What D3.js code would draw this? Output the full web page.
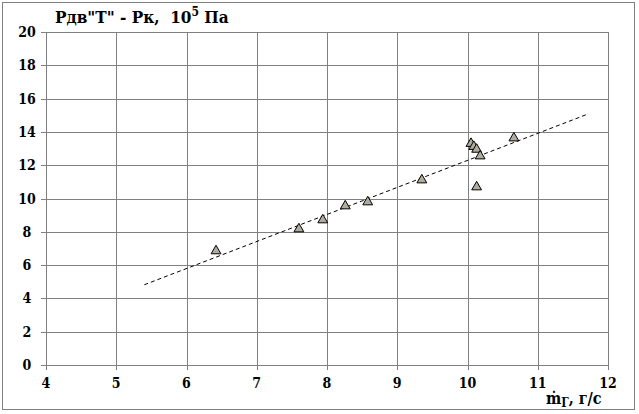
<!DOCTYPE html>
<html><head><meta charset="utf-8">
<script src="https://cdn.jsdelivr.net/npm/d3@7"></script>
<style>body{margin:0;background:#fff}svg{display:block}</style>
</head><body>
<script>
const xVals = [6.42, 7.60, 7.94, 8.26, 8.58, 9.35, 10.05, 10.09, 10.13, 10.18, 10.13, 10.66];
const yVals = [6.85, 8.17, 8.71, 9.55, 9.79, 11.11, 13.30, 13.12, 12.95, 12.55, 10.69, 13.63];
const trendX = [5.4, 11.7];
const trendY = [4.82, 15.05];
const xTicks = [4,5,6,7,8,9,10,11,12];
const yTicks = [0,2,4,6,8,10,12,14,16,18,20];

const W=639,H=414;
const FONT="'DejaVu Serif Condensed','DejaVu Serif',serif";
const svg=d3.select("body").append("svg").attr("width",W).attr("height",H)
  .attr("font-family",FONT).attr("font-weight","bold");
svg.append("rect").attr("x",0).attr("y",0).attr("width",W).attr("height",H).attr("fill","#fff");
svg.append("rect").attr("x",2.5).attr("y",2.5).attr("width",632).attr("height",407)
  .attr("fill","none").attr("stroke","#808080").attr("stroke-width",1);

const x=d3.scaleLinear().domain([4,12]).range([46,608]);
const y=d3.scaleLinear().domain([0,20]).range([365,32]);
const g=svg.append("g");
g.selectAll(".vg").data(xTicks).join("line")
  .attr("x1",d=>Math.round(x(d))+0.5).attr("x2",d=>Math.round(x(d))+0.5)
  .attr("y1",y(20)).attr("y2",y(0)).attr("stroke","#808080");
g.selectAll(".hg").data(yTicks).join("line")
  .attr("y1",d=>Math.round(y(d))+0.5).attr("y2",d=>Math.round(y(d))+0.5)
  .attr("x1",x(4)-5).attr("x2",x(12)).attr("stroke","#808080");
g.selectAll(".xt").data(xTicks).join("line")
  .attr("x1",d=>Math.round(x(d))+0.5).attr("x2",d=>Math.round(x(d))+0.5)
  .attr("y1",y(0)).attr("y2",y(0)+5).attr("stroke","#808080");
g.selectAll(".yl").data(yTicks).join("text")
  .attr("x",27).attr("y",d=>y(d)+5).attr("text-anchor","middle")
  .attr("font-size",14).style("font-family",FONT).text(d=>d);
g.selectAll(".xl").data(xTicks).join("text")
  .attr("x",d=>x(d)).attr("y",388).attr("text-anchor","middle")
  .attr("font-size",14).style("font-family",FONT).text(d=>d);
svg.append("line").attr("x1",x(trendX[0])).attr("y1",y(trendY[0]))
  .attr("x2",x(trendX[1])).attr("y2",y(trendY[1]))
  .attr("stroke","#000").attr("stroke-width",1).attr("stroke-dasharray","4,3");
const pts=xVals.map((v,i)=>[v,yVals[i]]);
svg.selectAll(".pt").data(pts).join("path")
  .attr("d",d3.symbol(d3.symbolTriangle,42)())
  .attr("transform",d=>`translate(${x(d[0])},${y(d[1])})`)
  .attr("fill","#aeac9c").attr("stroke","#000").attr("stroke-width",1);
const t=svg.append("text").attr("x",55).attr("y",23).attr("font-size",17).style("font-family",FONT);
t.append("tspan").text('Рдв"Т" - Рк,\u00a0\u00a010');
t.append("tspan").attr("font-size",12).attr("dy",-7).text("5");
t.append("tspan").attr("dy",7).text(" Па");
const xt=svg.append("text").attr("x",546).attr("y",404).attr("font-size",16).style("font-family",FONT);
xt.append("tspan").text("ṁ");
xt.append("tspan").attr("font-size",12).attr("dy",3).text("Г");
xt.append("tspan").attr("dy",-3).text(", г/с");
</script>
</body></html>
